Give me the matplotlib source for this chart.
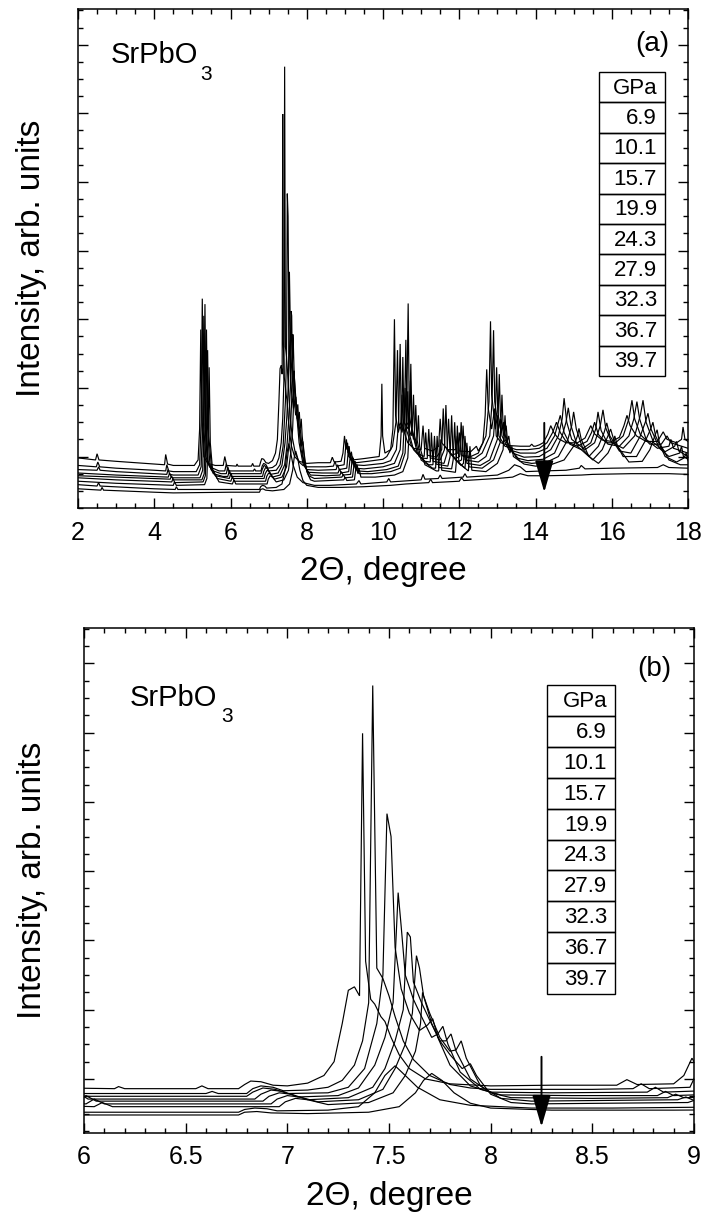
import matplotlib
matplotlib.use("Agg")
import matplotlib.pyplot as plt
from matplotlib.patches import Rectangle
from matplotlib.ticker import MultipleLocator, FuncFormatter, NullFormatter

plt.rcParams['font.family'] = ['Liberation Sans', 'DejaVu Sans']

# ---------------- data ----------------
pressures = ["6.9", "10.1", "15.7", "19.9", "24.3", "27.9", "32.3", "36.7", "39.7"]
legend_title = "GPa"
compound = "SrPbO"
compound_sub = "3"
xlabel = "2\u0398, degree"
ylabel = "Intensity, arb. units"
xlim_a = (2, 18)
xlim_b = (6, 9)
arrow_a_x = 14.23
arrow_b_x = 8.25

curve_6_9 = [(2.0,-0.02),(2.46,-0.05),(2.50,0.04),(2.55,-0.05),(3.0,-0.07),(4.0,-0.11),(4.27,-0.12),(4.30,0.03),(4.35,-0.11),(4.5,-0.13),(5.05,-0.13),(5.15,-0.05),(5.19,0.4),(5.22,1.85),(5.25,0.45),(5.30,0.0),(5.4,-0.1),(5.6,-0.13),(5.81,-0.13),(5.85,0.0),(5.9,-0.13),(6.15,-0.14),(6.17,-0.11),(6.2,-0.14),(6.55,-0.14),(6.58,-0.10),(6.61,-0.14),(6.76,-0.14),(6.79,-0.08),(6.82,-0.03),(6.87,-0.04),(6.93,-0.09),(7.0,-0.1),(7.1,-0.06),(7.18,0.05),(7.23,0.25),(7.27,0.8),(7.30,1.28),(7.33,1.33),(7.355,1.2),(7.37,4.99),(7.385,1.7),(7.41,1.15),(7.43,1.08),(7.46,0.9),(7.48,0.83),(7.51,0.6),(7.55,0.35),(7.6,0.15),(7.68,0.0),(7.8,-0.07),(8.0,-0.1),(8.3,-0.09),(8.62,-0.09),(8.67,-0.01),(8.72,-0.08),(8.9,-0.07),(8.95,0.05),(8.99,0.30),(9.03,0.1),(9.07,0.2),(9.1,0.0),(9.2,-0.05),(9.5,-0.03),(9.9,0.0),(9.95,0.3),(9.97,1.06),(9.99,0.3),(10.05,0.05),(10.2,0.1),(10.26,0.4),(10.30,2.0),(10.33,0.6),(10.4,0.35),(10.47,0.5),(10.50,0.9),(10.53,0.4),(10.65,0.2),(10.8,0.12),(11.0,0.1),(11.05,0.45),(11.09,0.12),(11.3,0.08),(11.46,0.15),(11.50,0.55),(11.54,0.2),(11.7,0.1),(11.9,0.1),(11.95,0.3),(12.0,0.08),(12.3,0.07),(12.45,0.15),(12.5,0.08),(12.62,0.2),(12.68,0.6),(12.72,1.27),(12.76,0.7),(12.85,0.4),(12.93,0.7),(12.97,0.3),(13.1,0.2),(13.3,0.16),(13.6,0.15),(13.85,0.15),(13.9,0.18),(13.95,0.15),(14.0,0.15),(14.1,0.17),(14.2,0.2),(14.32,0.32),(14.40,0.45),(14.48,0.35),(14.6,0.26),(14.8,0.2),(15.1,0.2),(15.3,0.27),(15.45,0.45),(15.55,0.33),(15.75,0.24),(16.0,0.22),(16.2,0.28),(16.32,0.45),(16.40,0.60),(16.48,0.45),(16.65,0.3),(16.9,0.22),(17.2,0.22),(17.35,0.36),(17.45,0.25),(17.7,0.2),(17.83,0.25),(17.87,0.43),(17.92,0.25),(18.0,0.22)]

curve_10_1 = [(2.0,-0.13),(2.48,-0.15),(2.52,-0.08),(2.57,-0.15),(3.0,-0.17),(4.0,-0.2),(4.3,-0.21),(4.33,-0.12),(4.38,-0.21),(4.5,-0.22),(5.1,-0.22),(5.19,-0.12),(5.23,0.5),(5.26,2.30),(5.29,0.5),(5.35,0.0),(5.45,-0.15),(5.7,-0.21),(5.85,-0.21),(5.89,-0.11),(5.94,-0.21),(6.2,-0.21),(6.6,-0.21),(6.63,-0.18),(6.66,-0.21),(6.8,-0.21),(6.83,-0.14),(6.87,-0.1),(6.93,-0.12),(6.98,-0.17),(7.1,-0.16),(7.2,-0.12),(7.27,-0.02),(7.33,0.2),(7.37,0.55),(7.40,1.1),(7.42,5.68),(7.44,1.6),(7.47,1.45),(7.50,1.2),(7.53,0.9),(7.57,0.55),(7.62,0.28),(7.7,0.05),(7.8,-0.08),(7.9,-0.13),(8.0,-0.15),(8.5,-0.15),(8.7,-0.14),(8.74,-0.07),(8.78,-0.14),(8.98,-0.12),(9.04,0.25),(9.08,0.05),(9.11,0.15),(9.15,-0.05),(9.3,-0.09),(9.6,-0.07),(10.0,-0.04),(10.1,0.0),(10.25,0.15),(10.34,0.5),(10.38,1.55),(10.41,0.5),(10.5,0.35),(10.55,0.55),(10.58,1.0),(10.61,0.4),(10.75,0.15),(10.9,0.05),(11.08,0.0),(11.12,0.35),(11.16,0.02),(11.4,-0.01),(11.54,0.1),(11.58,0.70),(11.62,0.15),(11.8,0.02),(11.96,0.05),(12.0,0.35),(12.05,0.02),(12.3,0.0),(12.5,0.05),(12.7,0.3),(12.78,0.8),(12.82,1.97),(12.85,0.9),(12.95,0.4),(13.0,0.6),(13.04,0.3),(13.2,0.15),(13.5,0.1),(13.8,0.1),(14.1,0.12),(14.3,0.2),(14.45,0.35),(14.55,0.5),(14.65,0.35),(14.8,0.22),(15.1,0.15),(15.35,0.22),(15.47,0.35),(15.55,0.5),(15.65,0.32),(15.85,0.2),(16.1,0.2),(16.3,0.3),(16.45,0.55),(16.53,0.82),(16.6,0.55),(16.75,0.32),(17.0,0.18),(17.3,0.18),(17.45,0.3),(17.55,0.2),(18.0,0.12)]

curve_15_7 = [(2.0,-0.19),(2.5,-0.2),(2.54,-0.15),(2.58,-0.2),(3.0,-0.22),(4.0,-0.25),(4.33,-0.26),(4.36,-0.19),(4.41,-0.26),(4.5,-0.27),(5.15,-0.27),(5.23,-0.15),(5.27,0.5),(5.30,2.05),(5.33,0.45),(5.39,-0.05),(5.5,-0.2),(5.75,-0.25),(5.89,-0.25),(5.93,-0.15),(5.98,-0.25),(6.3,-0.25),(6.8,-0.25),(6.83,-0.19),(6.88,-0.13),(6.94,-0.15),(7.0,-0.21),(7.2,-0.2),(7.3,-0.12),(7.38,0.15),(7.44,0.8),(7.47,1.5),(7.49,3.83),(7.51,3.5),(7.53,1.9),(7.56,1.3),(7.6,0.95),(7.65,0.7),(7.69,0.78),(7.715,0.87),(7.74,0.6),(7.8,0.2),(7.9,-0.1),(8.0,-0.19),(8.3,-0.2),(8.77,-0.19),(8.81,-0.12),(8.85,-0.19),(9.05,-0.17),(9.1,0.15),(9.14,-0.02),(9.17,0.07),(9.22,-0.12),(9.5,-0.13),(10.0,-0.1),(10.2,-0.06),(10.35,0.1),(10.41,0.5),(10.45,1.64),(10.48,0.5),(10.58,0.35),(10.62,0.5),(10.65,0.95),(10.68,0.35),(10.8,0.1),(11.0,-0.02),(11.16,-0.03),(11.2,0.4),(11.24,-0.02),(11.5,-0.05),(11.61,0.1),(11.65,0.75),(11.69,0.1),(11.9,-0.03),(12.01,0.0),(12.05,0.5),(12.1,0.0),(12.4,-0.03),(12.6,0.05),(12.8,0.3),(12.86,0.8),(12.90,1.84),(12.93,0.8),(13.03,0.4),(13.08,0.55),(13.12,0.3),(13.3,0.1),(13.6,0.05),(14.0,0.05),(14.3,0.12),(14.5,0.3),(14.65,0.6),(14.75,0.35),(14.9,0.18),(15.2,0.1),(15.45,0.2),(15.58,0.4),(15.64,0.65),(15.72,0.38),(15.9,0.18),(16.2,0.15),(16.45,0.3),(16.58,0.55),(16.66,0.8),(16.73,0.55),(16.9,0.25),(17.2,0.12),(17.5,0.15),(17.55,0.25),(17.62,0.12),(18.0,0.05)]

curve_19_9 = [(2.0,-0.24),(3.0,-0.27),(4.37,-0.3),(4.40,-0.24),(4.45,-0.3),(4.5,-0.31),(5.2,-0.31),(5.27,-0.2),(5.30,0.45),(5.33,2.22),(5.36,0.45),(5.42,-0.1),(5.55,-0.25),(5.8,-0.29),(5.93,-0.29),(5.97,-0.2),(6.02,-0.29),(6.4,-0.29),(6.84,-0.29),(6.87,-0.22),(6.92,-0.16),(6.98,-0.18),(7.05,-0.26),(7.25,-0.24),(7.35,-0.13),(7.43,0.2),(7.48,0.6),(7.52,1.1),(7.545,2.69),(7.56,2.2),(7.58,1.5),(7.62,1.15),(7.66,0.9),(7.71,0.6),(7.74,0.65),(7.765,0.76),(7.79,0.5),(7.85,0.1),(7.95,-0.15),(8.05,-0.23),(8.4,-0.24),(8.82,-0.24),(8.86,-0.18),(8.9,-0.24),(9.1,-0.22),(9.15,0.05),(9.19,-0.1),(9.22,-0.02),(9.27,-0.17),(9.5,-0.18),(10.0,-0.15),(10.3,-0.1),(10.45,0.1),(10.49,0.5),(10.52,1.45),(10.55,0.5),(10.66,0.4),(10.69,0.6),(10.72,1.1),(10.75,0.4),(10.9,0.05),(11.1,-0.07),(11.24,-0.08),(11.27,0.35),(11.31,-0.07),(11.6,-0.1),(11.68,0.05),(11.72,0.55),(11.76,0.05),(11.95,-0.08),(12.06,-0.05),(12.1,0.45),(12.15,-0.05),(12.5,-0.08),(12.7,0.0),(12.9,0.3),(12.95,0.7),(12.98,1.3),(13.01,0.65),(13.1,0.35),(13.16,0.5),(13.2,0.25),(13.4,0.05),(13.7,-0.01),(14.1,0.0),(14.4,0.1),(14.6,0.3),(14.7,0.55),(14.75,0.85),(14.82,0.5),(14.95,0.25),(15.3,0.1),(15.55,0.2),(15.7,0.45),(15.77,0.68),(15.84,0.42),(16.0,0.2),(16.3,0.12),(16.6,0.3),(16.75,0.6),(16.82,0.82),(16.9,0.5),(17.1,0.2),(17.4,0.07),(17.65,0.15),(17.7,0.22),(17.76,0.08),(18.0,0.0)]

curve_24_3 = [(2.0,-0.28),(3.0,-0.3),(4.42,-0.33),(4.45,-0.28),(4.5,-0.34),(5.25,-0.34),(5.31,-0.25),(5.34,0.4),(5.37,1.85),(5.40,0.4),(5.46,-0.12),(5.6,-0.28),(5.97,-0.32),(6.01,-0.24),(6.06,-0.32),(6.5,-0.32),(6.88,-0.32),(6.91,-0.25),(6.96,-0.2),(7.02,-0.22),(7.1,-0.3),(7.3,-0.27),(7.42,-0.12),(7.48,0.15),(7.53,0.55),(7.57,1.0),(7.59,2.12),(7.605,2.05),(7.62,1.4),(7.66,1.1),(7.7,0.85),(7.75,0.55),(7.78,0.55),(7.805,0.65),(7.83,0.4),(7.9,0.0),(8.0,-0.2),(8.1,-0.27),(8.5,-0.28),(8.87,-0.27),(8.91,-0.22),(8.95,-0.27),(9.15,-0.26),(9.2,0.0),(9.24,-0.15),(9.27,-0.07),(9.32,-0.21),(9.6,-0.22),(10.1,-0.19),(10.4,-0.14),(10.52,0.05),(10.56,0.5),(10.60,1.70),(10.63,0.5),(10.74,0.3),(10.77,0.45),(10.80,0.9),(10.83,0.3),(10.95,0.0),(11.2,-0.12),(11.31,-0.12),(11.35,0.3),(11.39,-0.11),(11.7,-0.14),(11.76,0.0),(11.8,0.6),(11.84,0.0),(12.05,-0.13),(12.11,-0.1),(12.15,0.3),(12.2,-0.1),(12.55,-0.13),(12.8,-0.05),(13.0,0.25),(13.02,0.6),(13.05,1.2),(13.08,0.6),(13.17,0.3),(13.23,0.45),(13.27,0.2),(13.5,-0.02),(13.8,-0.06),(14.2,-0.04),(14.5,0.05),(14.7,0.3),(14.8,0.5),(14.86,0.71),(14.93,0.45),(15.1,0.15),(15.4,0.0),(15.65,0.15),(15.8,0.35),(15.87,0.49),(15.95,0.3),(16.2,0.08),(16.5,0.05),(16.75,0.3),(16.88,0.5),(16.95,0.63),(17.03,0.4),(17.25,0.12),(17.5,0.0),(17.78,0.05),(17.83,0.15),(17.88,0.0),(18.0,-0.04)]

curve_27_9 = [(2.0,-0.31),(3.0,-0.34),(4.46,-0.37),(4.49,-0.32),(4.54,-0.38),(5.28,-0.37),(5.34,-0.28),(5.37,0.3),(5.40,1.55),(5.43,0.3),(5.5,-0.15),(5.65,-0.32),(6.01,-0.36),(6.05,-0.29),(6.1,-0.36),(6.55,-0.36),(6.92,-0.36),(6.95,-0.29),(7.0,-0.24),(7.06,-0.26),(7.15,-0.33),(7.35,-0.3),(7.47,-0.15),(7.53,0.15),(7.58,0.5),(7.615,0.95),(7.635,1.78),(7.65,1.6),(7.67,1.2),(7.7,0.95),(7.75,0.6),(7.8,0.4),(7.83,0.42),(7.855,0.55),(7.88,0.3),(7.95,-0.1),(8.05,-0.28),(8.2,-0.32),(8.92,-0.3),(8.96,-0.26),(9.0,-0.31),(9.2,-0.3),(9.25,-0.07),(9.29,-0.2),(9.32,-0.12),(9.37,-0.25),(9.7,-0.25),(10.2,-0.22),(10.45,-0.17),(10.58,0.05),(10.62,0.6),(10.66,2.23),(10.69,0.6),(10.8,0.25),(10.83,0.4),(10.86,0.75),(10.89,0.25),(11.0,-0.05),(11.3,-0.17),(11.38,-0.17),(11.42,0.3),(11.46,-0.16),(11.8,-0.18),(11.84,-0.05),(11.88,0.5),(11.92,-0.05),(12.15,-0.17),(12.2,0.2),(12.25,-0.15),(12.6,-0.17),(12.9,-0.05),(13.07,0.2),(13.09,0.45),(13.12,0.9),(13.15,0.45),(13.25,0.2),(13.3,0.3),(13.34,0.12),(13.6,-0.07),(13.9,-0.1),(14.3,-0.08),(14.6,0.0),(14.85,0.25),(14.95,0.45),(15.0,0.65),(15.07,0.4),(15.25,0.1),(15.5,-0.05),(15.75,0.1),(15.9,0.3),(15.97,0.4),(16.05,0.25),(16.3,0.0),(16.65,0.0),(16.9,0.25),(17.02,0.4),(17.08,0.5),(17.15,0.3),(17.4,0.0),(17.7,-0.08),(17.9,-0.02),(17.95,0.05),(18.0,-0.06)]

curve_32_3 = [(2.0,-0.36),(3.0,-0.39),(4.5,-0.42),(4.53,-0.37),(4.58,-0.42),(5.32,-0.41),(5.38,-0.32),(5.41,0.2),(5.44,1.30),(5.47,0.2),(5.53,-0.2),(5.7,-0.37),(6.05,-0.4),(6.09,-0.34),(6.14,-0.4),(6.6,-0.4),(6.96,-0.4),(6.99,-0.33),(7.04,-0.28),(7.1,-0.3),(7.2,-0.37),(7.4,-0.34),(7.52,-0.2),(7.58,0.05),(7.63,0.4),(7.655,0.8),(7.665,1.25),(7.68,1.1),(7.71,0.8),(7.75,0.55),(7.8,0.35),(7.86,0.15),(7.9,0.22),(7.93,0.05),(8.0,-0.22),(8.1,-0.34),(8.2,-0.36),(8.97,-0.34),(9.01,-0.3),(9.05,-0.35),(9.25,-0.34),(9.3,-0.12),(9.34,-0.25),(9.37,-0.17),(9.42,-0.3),(9.8,-0.3),(10.3,-0.27),(10.52,-0.22),(10.65,-0.02),(10.69,0.4),(10.73,1.35),(10.76,0.4),(10.87,0.15),(10.9,0.3),(10.93,0.6),(10.96,0.15),(11.1,-0.12),(11.4,-0.21),(11.46,-0.21),(11.5,0.25),(11.54,-0.2),(11.9,-0.23),(11.92,-0.1),(11.95,0.45),(11.99,-0.1),(12.24,-0.21),(12.28,0.15),(12.33,-0.2),(12.7,-0.22),(13.0,-0.1),(13.15,0.1),(13.17,0.3),(13.2,0.6),(13.23,0.3),(13.33,0.05),(13.38,0.15),(13.42,0.0),(13.7,-0.11),(14.0,-0.14),(14.4,-0.12),(14.75,-0.05),(15.0,0.15),(15.1,0.3),(15.14,0.41),(15.2,0.25),(15.4,0.0),(15.65,-0.1),(15.9,0.05),(16.03,0.2),(16.08,0.3),(16.15,0.15),(16.45,-0.08),(16.8,-0.07),(17.0,0.1),(17.13,0.3),(17.19,0.39),(17.25,0.2),(17.5,-0.05),(17.8,-0.12),(18.0,-0.12)]

curve_36_7 = [(2.0,-0.41),(2.5,-0.43),(2.54,-0.38),(2.58,-0.43),(4.0,-0.47),(4.55,-0.48),(4.58,-0.44),(4.62,-0.48),(6.0,-0.48),(6.76,-0.48),(6.79,-0.44),(6.84,-0.42),(6.9,-0.43),(6.95,-0.46),(7.2,-0.45),(7.35,-0.4),(7.43,-0.2),(7.48,0.05),(7.53,0.19),(7.58,0.05),(7.64,-0.12),(7.75,-0.3),(7.9,-0.38),(8.2,-0.42),(8.6,-0.42),(9.3,-0.4),(9.37,-0.35),(9.42,-0.4),(10.1,-0.37),(10.15,-0.32),(10.2,-0.37),(11.0,-0.34),(11.05,-0.26),(11.1,-0.33),(11.45,-0.32),(11.5,-0.27),(11.55,-0.32),(12.1,-0.3),(12.15,-0.25),(12.2,-0.3),(13.0,-0.27),(13.3,-0.2),(13.45,-0.12),(13.6,-0.15),(13.75,-0.22),(14.2,-0.21),(14.8,-0.2),(15.15,-0.17),(15.2,-0.13),(15.3,-0.18),(16.0,-0.17),(17.2,-0.16),(17.35,-0.12),(17.5,-0.16),(18.0,-0.17)]

curve_39_7 = [(2.0,-0.47),(2.6,-0.49),(2.63,-0.45),(2.67,-0.49),(4.0,-0.52),(4.5,-0.53),(6.0,-0.52),(6.76,-0.52),(6.79,-0.48),(6.85,-0.47),(6.92,-0.49),(7.1,-0.5),(7.4,-0.48),(7.55,-0.4),(7.63,-0.2),(7.67,-0.02),(7.71,0.08),(7.76,-0.02),(7.82,-0.2),(7.9,-0.35),(8.0,-0.42),(8.3,-0.45),(8.9,-0.45),(9.5,-0.44),(10.2,-0.42),(10.6,-0.4),(11.2,-0.38),(11.25,-0.33),(11.3,-0.38),(12.0,-0.36),(12.06,-0.31),(12.12,-0.35),(13.0,-0.32),(13.4,-0.3),(13.6,-0.25),(13.8,-0.28),(14.3,-0.28),(15.2,-0.27),(15.5,-0.26),(16.5,-0.25),(17.5,-0.25),(18.0,-0.26)]

curves = [curve_6_9, curve_10_1, curve_15_7, curve_19_9, curve_24_3,
          curve_27_9, curve_32_3, curve_36_7, curve_39_7]

# ---------------- layout helpers ----------------
W, H = 706, 1217
def fx(px):
    return px / W
def fy(py):
    return 1 - py / H

fig = plt.figure(figsize=(W / 100, H / 100), dpi=100)

def style_axes(ax, xmajor, xminor, fmt):
    ax.yaxis.set_major_locator(MultipleLocator(1.0))
    ax.yaxis.set_minor_locator(MultipleLocator(0.25))
    ax.yaxis.set_major_formatter(NullFormatter())
    ax.xaxis.set_major_locator(MultipleLocator(xmajor))
    ax.xaxis.set_minor_locator(MultipleLocator(xminor))
    ax.xaxis.set_major_formatter(FuncFormatter(fmt))
    ax.tick_params(which='both', direction='in', top=True, right=True,
                   width=1.0, colors='black')
    ax.tick_params(which='major', length=7)
    ax.tick_params(which='minor', length=3.6)
    ax.tick_params(axis='x', which='major', labelsize=18, pad=9)
    for s in ax.spines.values():
        s.set_linewidth(1.1)

def draw_table(x0, x1, y0, row_h, text_right):
    rows = [legend_title] + pressures
    for i, t in enumerate(rows):
        top = y0 + i * row_h
        fig.add_artist(Rectangle((fx(x0), fy(top + row_h)), fx(x1) - fx(x0),
                                 fy(top) - fy(top + row_h), transform=fig.transFigure,
                                 fill=False, edgecolor='black', lw=1.0))
        fig.text(fx(text_right), fy(top + row_h / 2 + 1), t, ha='right', va='center',
                 fontsize=16)

def panel(rect, xlim, ylim, xmajor, xminor, fmt, arrow_x, arrow_y):
    ax = fig.add_axes(rect)
    for c in curves:
        xs = [p[0] for p in c]
        ys = [p[1] for p in c]
        ax.plot(xs, ys, color='black', lw=0.85, solid_joinstyle='miter')
    ax.set_xlim(*xlim)
    ax.set_ylim(*ylim)
    style_axes(ax, xmajor, xminor, fmt)
    ax.set_xlabel(xlabel, fontsize=24, labelpad=8)
    ax.set_ylabel(ylabel, fontsize=24)
    ax.annotate('', xy=(arrow_x, arrow_y[1]), xytext=(arrow_x, arrow_y[0]),
                arrowprops=dict(arrowstyle='-|>,head_length=1.1,head_width=0.32',
                                mutation_scale=18, lw=1.4, color='black',
                                shrinkA=0, shrinkB=0))
    return ax

fmt_int = lambda v, p: "%g" % v

# panel (a)
ax_a = panel([fx(78), fy(508), fx(688) - fx(78), fy(9) - fy(508)],
             xlim_a, (-0.75, 6.52), 2, 0.5, fmt_int, arrow_a_x, (0.49, -0.52))
ax_a.yaxis.set_label_coords(-0.05, 0.5)
fig.text(fx(111), fy(55), compound, ha='left', va='center', fontsize=21)
fig.text(fx(200), fy(74), compound_sub, ha='left', va='center', fontsize=15)
fig.text(fx(652), fy(44), "(a)", ha='center', va='center', fontsize=20)
draw_table(599, 665, 72, 30.4, 657)

# panel (b)
ax_b = panel([fx(84), fy(1133), fx(694) - fx(84), fy(628) - fy(1133)],
             xlim_b, (-0.78, 6.51), 0.5, 0.1, fmt_int, arrow_b_x, (0.32, -0.69))
ax_b.yaxis.set_label_coords(-0.059, 0.5)
fig.text(fx(130), fy(698), compound, ha='left', va='center', fontsize=21)
fig.text(fx(221), fy(716), compound_sub, ha='left', va='center', fontsize=15)
fig.text(fx(654), fy(669), "(b)", ha='center', va='center', fontsize=20)
draw_table(547, 615, 685, 30.9, 607)

fig.savefig("out.png", dpi=100)
